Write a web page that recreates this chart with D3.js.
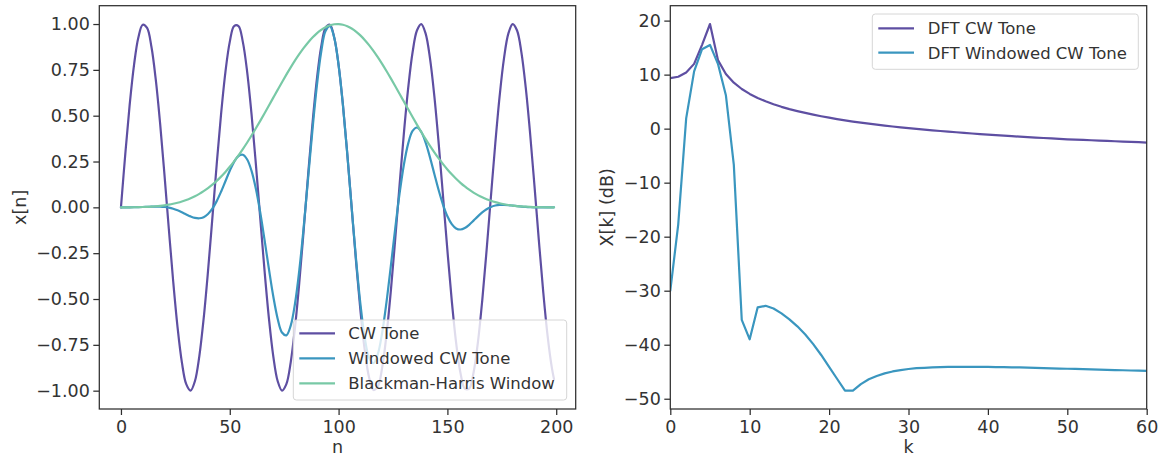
<!DOCTYPE html>
<html>
<head>
<meta charset="utf-8">
<script src="https://cdn.jsdelivr.net/npm/d3@7"></script>
<style>
  html, body { margin: 0; padding: 0; background: #ffffff; }
  svg { display: block; font-family: "DejaVu Sans", sans-serif; }
</style>
</head>
<body>
<svg id="chart" width="1170" height="458"></svg>
<script>
// ---- time domain: sample index n (every second sample plus the last one)
const sampleIndex = [
  0, 2, 4, 6, 8, 10, 12, 14, 16, 18, 20, 22, 24, 26, 28, 30, 32, 34, 36, 38,
  40, 42, 44, 46, 48, 50, 52, 54, 56, 58, 60, 62, 64, 66, 68, 70, 72, 74, 76, 78,
  80, 82, 84, 86, 88, 90, 92, 94, 96, 98, 100, 102, 104, 106, 108, 110, 112, 114, 116, 118,
  120, 122, 124, 126, 128, 130, 132, 134, 136, 138, 140, 142, 144, 146, 148, 150, 152, 154, 156, 158,
  160, 162, 164, 166, 168, 170, 172, 174, 176, 178, 180, 182, 184, 186, 188, 190, 192, 194, 196, 198,
  199
];

const cwTone = [
  0, 0.2920, 0.5585, 0.7764, 0.9267, 0.9961, 0.9786, 0.8758, 0.6965, 0.4566,
  0.1769, -0.1182, -0.4031, -0.6528, -0.8457, -0.9647, -0.9996, -0.9473, -0.8125, -0.6069,
  -0.3483, -0.0592, 0.2350, 0.5086, 0.7380, 0.9028, 0.9890, 0.9890, 0.9028, 0.7380,
  0.5084, 0.2348, -0.0593, -0.3483, -0.6069, -0.8126, -0.9473, -0.9996, -0.9646, -0.8455,
  -0.6526, -0.4031, -0.1182, 0.1769, 0.4566, 0.6966, 0.8757, 0.9786, 0.9960, 0.9267,
  0.7764, 0.5585, 0.2920, 0.0000, -0.2920, -0.5586, -0.7765, -0.9267, -0.9961, -0.9785,
  -0.8757, -0.6965, -0.4566, -0.1768, 0.1184, 0.4032, 0.6529, 0.8458, 0.9647, 0.9996,
  0.9473, 0.8125, 0.6067, 0.3481, 0.0591, -0.2350, -0.5086, -0.7380, -0.9028, -0.9890,
  -0.9890, -0.9027, -0.7379, -0.5083, -0.2348, 0.0593, 0.3483, 0.6069, 0.8126, 0.9474,
  0.9996, 0.9646, 0.8455, 0.6526, 0.4030, 0.1182, -0.1771, -0.4567, -0.6967, -0.8758,
  -0.9373
];

const bhWindow = [
  0.00006, 0.00012, 0.00029, 0.00061, 0.00110, 0.00181, 0.00280, 0.00414, 0.00591, 0.00821,
  0.01114, 0.01484, 0.01942, 0.02502, 0.03178, 0.03985, 0.04937, 0.06049, 0.07334, 0.08806,
  0.10476, 0.12354, 0.14450, 0.16768, 0.19312, 0.22108, 0.25109, 0.28331, 0.31753, 0.35377,
  0.39171, 0.43115, 0.47188, 0.51358, 0.55587, 0.59847, 0.64094, 0.68287, 0.72379, 0.76342,
  0.80124, 0.83682, 0.86976, 0.89970, 0.92628, 0.94911, 0.96801, 0.98265, 0.99293, 0.99870,
  0.99986, 0.99638, 0.98839, 0.97582, 0.95907, 0.93819, 0.91342, 0.88511, 0.85362, 0.81930,
  0.78259, 0.74378, 0.70345, 0.66196, 0.61971, 0.57716, 0.53466, 0.49263, 0.45140, 0.41127,
  0.37250, 0.33535, 0.30013, 0.26692, 0.23581, 0.20690, 0.18012, 0.15581, 0.13375, 0.11388,
  0.09615, 0.08045, 0.06669, 0.05472, 0.04442, 0.03564, 0.02825, 0.02208, 0.01701, 0.01289,
  0.00959, 0.00698, 0.00496, 0.00342, 0.00227, 0.00143, 0.00083, 0.00043, 0.00019, 0.00007,
  0.00006
];

const windowedTone = [
  0, 0.00004, 0.00016, 0.00047, 0.00102, 0.00180, 0.00274, 0.00363, 0.00412, 0.00375,
  0.00197, -0.00175, -0.00783, -0.01633, -0.02688, -0.03844, -0.04935, -0.05730, -0.05959, -0.05344,
  -0.03649, -0.00731, 0.03396, 0.08528, 0.14252, 0.19959, 0.24833, 0.28019, 0.28667, 0.26108,
  0.19915, 0.10123, -0.02798, -0.17888, -0.33736, -0.48632, -0.60716, -0.68260, -0.69817, -0.64547,
  -0.52289, -0.33732, -0.10281, 0.15916, 0.42294, 0.66115, 0.84769, 0.96162, 0.98896, 0.92550,
  0.77629, 0.55648, 0.28861, 0.00000, -0.28005, -0.52407, -0.70927, -0.82023, -0.85030, -0.80169,
  -0.68531, -0.51804, -0.32120, -0.11703, 0.07337, 0.23271, 0.34908, 0.41667, 0.43547, 0.41111,
  0.35287, 0.27247, 0.18209, 0.09291, 0.01394, -0.04862, -0.09161, -0.11499, -0.12075, -0.11263,
  -0.09509, -0.07262, -0.04921, -0.02781, -0.01043, 0.00211, 0.00984, 0.01340, 0.01382, 0.01221,
  0.00959, 0.00673, 0.00419, 0.00223, 0.00091, 0.00017, -0.00015, -0.00020, -0.00013, -0.00006,
  -0.00006
];

// ---- frequency domain: DFT bins k = 0..60, magnitude in dB
const kBins = [
  0, 1, 2, 3, 4, 5, 6, 7, 8, 9, 10, 11, 12, 13, 14, 15, 16, 17, 18, 19, 20,
  21, 22, 23, 24, 25, 26, 27, 28, 29, 30, 31, 32, 33, 34, 35, 36, 37, 38, 39, 40,
  41, 42, 43, 44, 45, 46, 47, 48, 49, 50, 51, 52, 53, 54, 55, 56, 57, 58, 59, 60
];

const dftTone = [
  9.36, 9.60, 10.40, 11.99, 15.51, 19.37, 12.69, 10.12, 8.51, 7.34, 6.43,
  5.68, 5.06, 4.52, 4.04, 3.62, 3.25, 2.91, 2.59, 2.30, 2.03,
  1.77, 1.53, 1.31, 1.11, 0.93, 0.75, 0.57, 0.40, 0.25, 0.09,
  -0.05, -0.19, -0.32, -0.44, -0.56, -0.67, -0.79, -0.90, -1.01, -1.12,
  -1.21, -1.30, -1.39, -1.48, -1.57, -1.65, -1.73, -1.81, -1.89, -1.97,
  -2.03, -2.09, -2.15, -2.21, -2.27, -2.33, -2.39, -2.45, -2.51, -2.57
];

const dftWindowed = [
  -30.0, -17.7, 1.9, 10.6, 14.7, 15.5, 12.0, 6.2, -6.7, -35.4, -39.0,
  -33.1, -32.8, -33.3, -34.2, -35.3, -36.6, -38.1, -39.9, -41.9, -44.1,
  -46.3, -48.5, -48.5, -47.3, -46.4, -45.8, -45.3, -44.95, -44.7, -44.5,
  -44.35, -44.27, -44.2, -44.15, -44.12, -44.1, -44.09, -44.09, -44.1, -44.11,
  -44.13, -44.15, -44.18, -44.21, -44.25, -44.29, -44.33, -44.37, -44.41, -44.45,
  -44.49, -44.53, -44.57, -44.61, -44.65, -44.69, -44.73, -44.77, -44.81, -44.85
];

// ---- tick values
const timeTicksX = [0, 50, 100, 150, 200];
const timeTicksY = [-1.0, -0.75, -0.5, -0.25, 0.0, 0.25, 0.5, 0.75, 1.0];
const freqTicksX = [0, 10, 20, 30, 40, 50, 60];
const freqTicksY = [-50, -40, -30, -20, -10, 0, 10, 20];

// ---- series labels and colours
const timeLabels = ["CW Tone", "Windowed CW Tone", "Blackman-Harris Window"];
const freqLabels = ["DFT CW Tone", "DFT Windowed CW Tone"];
const colors = { tone: "#5e4fa2", windowed: "#3a96bf", window: "#78c9a6" };

const INK = "#2e2e2e";
const TEXT_INK = "#333333";
const TICK_FONT = 17.5;
const LEGEND_FONT = 16.5;
const LINE_W = 2.2;

const svg = d3.select("#chart");

const panels = {
  time: { x0: 99.3, x1: 575.7, y0: 5.7, y1: 409 },
  freq: { x0: 670.3, x1: 1146.7, y0: 5.7, y1: 409 }
};

function drawAxes(g, p, x, y, xt, yt, xfmt, yfmt) {
  const ax = g.append("g")
    .attr("transform", `translate(0,${p.y1})`)
    .call(d3.axisBottom(x).tickValues(xt).tickSize(6).tickPadding(6).tickFormat(xfmt));
  const ay = g.append("g")
    .attr("transform", `translate(${p.x0},0)`)
    .call(d3.axisLeft(y).tickValues(yt).tickSize(6).tickPadding(3.5).tickFormat(yfmt));
  [ax, ay].forEach(a => {
    a.select(".domain").remove();
    a.selectAll(".tick line").attr("stroke", INK).attr("stroke-width", 1.25);
    a.selectAll(".tick text")
      .attr("fill", TEXT_INK)
      .style("font-size", TICK_FONT + "px")
      .style("font-family", "DejaVu Sans");
  });
  g.append("rect")
    .attr("x", p.x0).attr("y", p.y0)
    .attr("width", p.x1 - p.x0).attr("height", p.y1 - p.y0)
    .attr("fill", "none").attr("stroke", INK).attr("stroke-width", 1.25);
}

function drawLegend(g, items, box, rowY, lineX0, lineX1, textX) {
  g.append("rect")
    .attr("x", box.x).attr("y", box.y)
    .attr("width", box.w).attr("height", box.h)
    .attr("rx", 3).attr("ry", 3)
    .attr("fill", "#ffffff").attr("fill-opacity", 0.8)
    .attr("stroke", "#d6d6d6").attr("stroke-width", 1);
  items.forEach((it, i) => {
    const yy = rowY[i];
    g.append("line")
      .attr("x1", lineX0).attr("x2", lineX1)
      .attr("y1", yy).attr("y2", yy)
      .attr("stroke", it.color).attr("stroke-width", LINE_W);
    g.append("text")
      .attr("x", textX).attr("y", yy)
      .attr("dy", "0.36em")
      .attr("fill", TEXT_INK)
      .style("font-size", LEGEND_FONT + "px")
      .text(it.label);
  });
}

// ================= time-domain panel =================
{
  const p = panels.time;
  const g = svg.append("g");
  const x = d3.scaleLinear().domain([-9.95, 208.95]).range([p.x0, p.x1]);
  const y = d3.scaleLinear().domain([-1.1, 1.1]).range([p.y1, p.y0]);

  g.append("clipPath").attr("id", "clipTime")
    .append("rect").attr("x", p.x0).attr("y", p.y0)
    .attr("width", p.x1 - p.x0).attr("height", p.y1 - p.y0);

  const line = d3.line()
    .x(d => x(d[0])).y(d => y(d[1]))
    .curve(d3.curveCatmullRom.alpha(0.5));

  const series = [
    { vals: cwTone, color: colors.tone },
    { vals: windowedTone, color: colors.windowed },
    { vals: bhWindow, color: colors.window }
  ];
  const plot = g.append("g").attr("clip-path", "url(#clipTime)");
  series.forEach(s => {
    plot.append("path")
      .datum(sampleIndex.map((n, i) => [n, s.vals[i]]))
      .attr("d", line)
      .attr("fill", "none")
      .attr("stroke", s.color)
      .attr("stroke-width", LINE_W)
      .attr("stroke-linejoin", "round")
      .attr("stroke-linecap", "round");
  });

  drawAxes(g, p, x, y, timeTicksX, timeTicksY, d3.format("d"), d3.format(".2f"));

  drawLegend(g,
    [
      { label: timeLabels[0], color: colors.tone },
      { label: timeLabels[1], color: colors.windowed },
      { label: timeLabels[2], color: colors.window }
    ],
    { x: 293.3, y: 320, w: 273.4, h: 80 },
    [333.3, 358.3, 383.3], 299.3, 335, 348.3);

  g.append("text")
    .attr("x", (p.x0 + p.x1) / 2).attr("y", 453)
    .attr("text-anchor", "middle").attr("fill", TEXT_INK)
    .style("font-size", TICK_FONT + "px")
    .text("n");
  g.append("text")
    .attr("transform", `translate(26,${(p.y0 + p.y1) / 2}) rotate(-90)`)
    .attr("text-anchor", "middle").attr("fill", TEXT_INK)
    .style("font-size", TICK_FONT + "px")
    .text("x[n]");
}

// ================= frequency-domain panel =================
{
  const p = panels.freq;
  const g = svg.append("g");
  const x = d3.scaleLinear().domain([0, 60]).range([p.x0, p.x1]);
  const y = d3.scaleLinear().domain([-51.9, 22.76]).range([p.y1, p.y0]);

  g.append("clipPath").attr("id", "clipFreq")
    .append("rect").attr("x", p.x0).attr("y", p.y0)
    .attr("width", p.x1 - p.x0).attr("height", p.y1 - p.y0);

  const line = d3.line().x(d => x(d[0])).y(d => y(d[1]));

  const series = [
    { vals: dftTone, color: colors.tone },
    { vals: dftWindowed, color: colors.windowed }
  ];
  const plot = g.append("g").attr("clip-path", "url(#clipFreq)");
  series.forEach(s => {
    plot.append("path")
      .datum(kBins.map((k, i) => [k, s.vals[i]]))
      .attr("d", line)
      .attr("fill", "none")
      .attr("stroke", s.color)
      .attr("stroke-width", LINE_W)
      .attr("stroke-linejoin", "round")
      .attr("stroke-linecap", "round");
  });

  drawAxes(g, p, x, y, freqTicksX, freqTicksY, d3.format("d"), d3.format("d"));

  drawLegend(g,
    [
      { label: freqLabels[0], color: colors.tone },
      { label: freqLabels[1], color: colors.windowed }
    ],
    { x: 872.3, y: 14, w: 266, h: 55.3 },
    [28.3, 52.7], 878.3, 914, 927.7);

  g.append("text")
    .attr("x", (p.x0 + p.x1) / 2).attr("y", 453)
    .attr("text-anchor", "middle").attr("fill", TEXT_INK)
    .style("font-size", TICK_FONT + "px")
    .text("k");
  g.append("text")
    .attr("transform", `translate(612.7,${(p.y0 + p.y1) / 2}) rotate(-90)`)
    .attr("text-anchor", "middle").attr("fill", TEXT_INK)
    .style("font-size", TICK_FONT + "px")
    .text("X[k] (dB)");
}
</script>
</body>
</html>
